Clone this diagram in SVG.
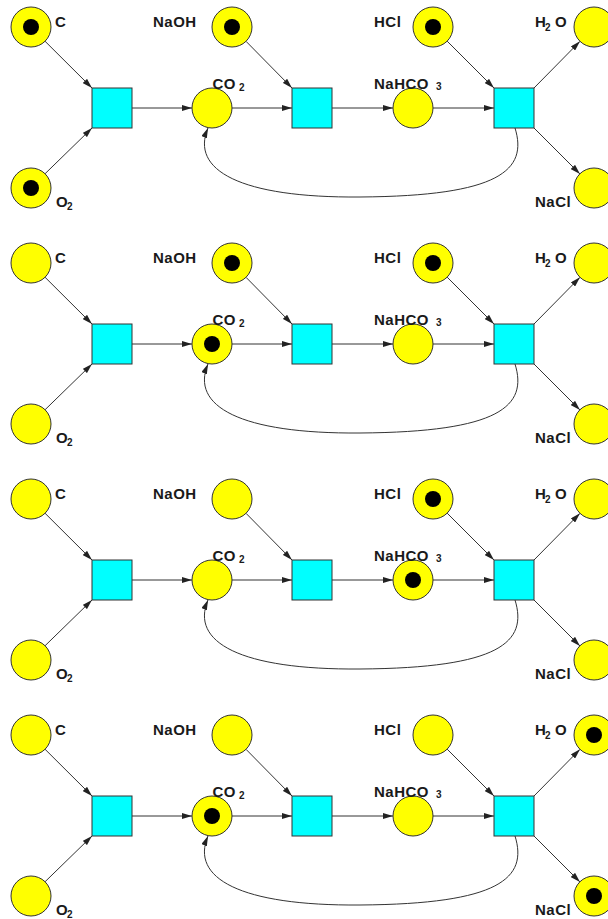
<svg xmlns="http://www.w3.org/2000/svg" width="608" height="919" viewBox="0 0 608 919">
<style>
.place{fill:#FFFF00;stroke:#333;stroke-width:1}
.trans{fill:#00FFFF;stroke:#333;stroke-width:1}
.tok{fill:#000}
.arc{fill:none;stroke:#333;stroke-width:1}
.lbl{font-family:"Liberation Sans",Arial,sans-serif;font-weight:bold;font-size:15px;letter-spacing:0.5px;fill:#1a1a1a}
.sub{font-size:10px;letter-spacing:0}
</style>
<defs>
<marker id="ah" viewBox="0 0 10 6" refX="10" refY="3" markerWidth="10" markerHeight="6" markerUnits="userSpaceOnUse" orient="auto">
<path d="M0,0 L10,3 L0,6 z" fill="#222"/>
</marker>
</defs>
<rect width="608" height="919" fill="#fff"/>

<!-- Panel 1 -->
<g id="panel1">
<g id="p1-connectors">
<line class="arc" x1="44.9" y1="41.1" x2="92" y2="88" marker-end="url(#ah)"/>
<line class="arc" x1="44.9" y1="173.9" x2="92" y2="128" marker-end="url(#ah)"/>
<line class="arc" x1="132" y1="108" x2="192" y2="108" marker-end="url(#ah)"/>
<line class="arc" x1="232" y1="108" x2="292" y2="108" marker-end="url(#ah)"/>
<line class="arc" x1="246" y1="41.3" x2="292" y2="88" marker-end="url(#ah)"/>
<line class="arc" x1="332" y1="108" x2="393" y2="108" marker-end="url(#ah)"/>
<line class="arc" x1="433" y1="108" x2="494" y2="108" marker-end="url(#ah)"/>
<line class="arc" x1="447.1" y1="41.1" x2="494" y2="88" marker-end="url(#ah)"/>
<line class="arc" x1="534" y1="88" x2="580" y2="41.3" marker-end="url(#ah)"/>
<line class="arc" x1="534" y1="128" x2="580" y2="174" marker-end="url(#ah)"/>
<path class="arc" d="M515,128 C528,170 500,196 360,197 C240,198 190,170 208,128" marker-end="url(#ah)"/>
</g>
<g id="p1-C"><circle class="place" cx="31" cy="27" r="20"/><circle class="tok" cx="31" cy="27" r="8"/><text class="lbl" x="55" y="27">C</text></g>
<g id="p1-O2"><circle class="place" cx="31" cy="188" r="20"/><circle class="tok" cx="31" cy="188" r="8"/><text class="lbl" x="56" y="207">O<tspan class="sub" x="67" y="210">2</tspan></text></g>
<g id="p1-t1"><rect class="trans" x="92" y="88" width="40" height="40"/></g>
<g id="p1-CO2"><circle class="place" cx="212" cy="108" r="20"/><text class="lbl" x="212.5" y="89">CO<tspan class="sub" x="239" y="91">2</tspan></text></g>
<g id="p1-NaOH"><circle class="place" cx="232" cy="27" r="20"/><circle class="tok" cx="232" cy="27" r="8"/><text class="lbl" x="153" y="27">NaOH</text></g>
<g id="p1-t2"><rect class="trans" x="292" y="88" width="40" height="40"/></g>
<g id="p1-NaHCO3"><circle class="place" cx="413" cy="108" r="20"/><text class="lbl" x="374" y="89">NaHCO<tspan class="sub" x="436" y="90">3</tspan></text></g>
<g id="p1-HCl"><circle class="place" cx="433" cy="27" r="20"/><circle class="tok" cx="433" cy="27" r="8"/><text class="lbl" x="374" y="27">HCl</text></g>
<g id="p1-t3"><rect class="trans" x="494" y="88" width="40" height="40"/></g>
<g id="p1-H2O"><circle class="place" cx="594" cy="27" r="20"/><text class="lbl" x="535" y="27">H<tspan class="sub" x="545" y="31">2</tspan><tspan x="555" y="27">O</tspan></text></g>
<g id="p1-NaCl"><circle class="place" cx="594" cy="188" r="20"/><text class="lbl" x="535" y="207">NaCl</text></g>
</g>

<!-- Panel 2 -->
<g id="panel2" transform="translate(0,236)">
<g id="p2-connectors">
<line class="arc" x1="44.9" y1="41.1" x2="92" y2="88" marker-end="url(#ah)"/>
<line class="arc" x1="44.9" y1="173.9" x2="92" y2="128" marker-end="url(#ah)"/>
<line class="arc" x1="132" y1="108" x2="192" y2="108" marker-end="url(#ah)"/>
<line class="arc" x1="232" y1="108" x2="292" y2="108" marker-end="url(#ah)"/>
<line class="arc" x1="246" y1="41.3" x2="292" y2="88" marker-end="url(#ah)"/>
<line class="arc" x1="332" y1="108" x2="393" y2="108" marker-end="url(#ah)"/>
<line class="arc" x1="433" y1="108" x2="494" y2="108" marker-end="url(#ah)"/>
<line class="arc" x1="447.1" y1="41.1" x2="494" y2="88" marker-end="url(#ah)"/>
<line class="arc" x1="534" y1="88" x2="580" y2="41.3" marker-end="url(#ah)"/>
<line class="arc" x1="534" y1="128" x2="580" y2="174" marker-end="url(#ah)"/>
<path class="arc" d="M515,128 C528,170 500,196 360,197 C240,198 190,170 208,128" marker-end="url(#ah)"/>
</g>
<g id="p2-C"><circle class="place" cx="31" cy="27" r="20"/><text class="lbl" x="55" y="27">C</text></g>
<g id="p2-O2"><circle class="place" cx="31" cy="188" r="20"/><text class="lbl" x="56" y="207">O<tspan class="sub" x="67" y="210">2</tspan></text></g>
<g id="p2-t1"><rect class="trans" x="92" y="88" width="40" height="40"/></g>
<g id="p2-CO2"><circle class="place" cx="212" cy="108" r="20"/><circle class="tok" cx="212" cy="108" r="8"/><text class="lbl" x="212.5" y="89">CO<tspan class="sub" x="239" y="91">2</tspan></text></g>
<g id="p2-NaOH"><circle class="place" cx="232" cy="27" r="20"/><circle class="tok" cx="232" cy="27" r="8"/><text class="lbl" x="153" y="27">NaOH</text></g>
<g id="p2-t2"><rect class="trans" x="292" y="88" width="40" height="40"/></g>
<g id="p2-NaHCO3"><circle class="place" cx="413" cy="108" r="20"/><text class="lbl" x="374" y="89">NaHCO<tspan class="sub" x="436" y="90">3</tspan></text></g>
<g id="p2-HCl"><circle class="place" cx="433" cy="27" r="20"/><circle class="tok" cx="433" cy="27" r="8"/><text class="lbl" x="374" y="27">HCl</text></g>
<g id="p2-t3"><rect class="trans" x="494" y="88" width="40" height="40"/></g>
<g id="p2-H2O"><circle class="place" cx="594" cy="27" r="20"/><text class="lbl" x="535" y="27">H<tspan class="sub" x="545" y="31">2</tspan><tspan x="555" y="27">O</tspan></text></g>
<g id="p2-NaCl"><circle class="place" cx="594" cy="188" r="20"/><text class="lbl" x="535" y="207">NaCl</text></g>
</g>

<!-- Panel 3 -->
<g id="panel3" transform="translate(0,472)">
<g id="p3-connectors">
<line class="arc" x1="44.9" y1="41.1" x2="92" y2="88" marker-end="url(#ah)"/>
<line class="arc" x1="44.9" y1="173.9" x2="92" y2="128" marker-end="url(#ah)"/>
<line class="arc" x1="132" y1="108" x2="192" y2="108" marker-end="url(#ah)"/>
<line class="arc" x1="232" y1="108" x2="292" y2="108" marker-end="url(#ah)"/>
<line class="arc" x1="246" y1="41.3" x2="292" y2="88" marker-end="url(#ah)"/>
<line class="arc" x1="332" y1="108" x2="393" y2="108" marker-end="url(#ah)"/>
<line class="arc" x1="433" y1="108" x2="494" y2="108" marker-end="url(#ah)"/>
<line class="arc" x1="447.1" y1="41.1" x2="494" y2="88" marker-end="url(#ah)"/>
<line class="arc" x1="534" y1="88" x2="580" y2="41.3" marker-end="url(#ah)"/>
<line class="arc" x1="534" y1="128" x2="580" y2="174" marker-end="url(#ah)"/>
<path class="arc" d="M515,128 C528,170 500,196 360,197 C240,198 190,170 208,128" marker-end="url(#ah)"/>
</g>
<g id="p3-C"><circle class="place" cx="31" cy="27" r="20"/><text class="lbl" x="55" y="27">C</text></g>
<g id="p3-O2"><circle class="place" cx="31" cy="188" r="20"/><text class="lbl" x="56" y="207">O<tspan class="sub" x="67" y="210">2</tspan></text></g>
<g id="p3-t1"><rect class="trans" x="92" y="88" width="40" height="40"/></g>
<g id="p3-CO2"><circle class="place" cx="212" cy="108" r="20"/><text class="lbl" x="212.5" y="89">CO<tspan class="sub" x="239" y="91">2</tspan></text></g>
<g id="p3-NaOH"><circle class="place" cx="232" cy="27" r="20"/><text class="lbl" x="153" y="27">NaOH</text></g>
<g id="p3-t2"><rect class="trans" x="292" y="88" width="40" height="40"/></g>
<g id="p3-NaHCO3"><circle class="place" cx="413" cy="108" r="20"/><circle class="tok" cx="413" cy="108" r="8"/><text class="lbl" x="374" y="89">NaHCO<tspan class="sub" x="436" y="90">3</tspan></text></g>
<g id="p3-HCl"><circle class="place" cx="433" cy="27" r="20"/><circle class="tok" cx="433" cy="27" r="8"/><text class="lbl" x="374" y="27">HCl</text></g>
<g id="p3-t3"><rect class="trans" x="494" y="88" width="40" height="40"/></g>
<g id="p3-H2O"><circle class="place" cx="594" cy="27" r="20"/><text class="lbl" x="535" y="27">H<tspan class="sub" x="545" y="31">2</tspan><tspan x="555" y="27">O</tspan></text></g>
<g id="p3-NaCl"><circle class="place" cx="594" cy="188" r="20"/><text class="lbl" x="535" y="207">NaCl</text></g>
</g>

<!-- Panel 4 -->
<g id="panel4" transform="translate(0,708)">
<g id="p4-connectors">
<line class="arc" x1="44.9" y1="41.1" x2="92" y2="88" marker-end="url(#ah)"/>
<line class="arc" x1="44.9" y1="173.9" x2="92" y2="128" marker-end="url(#ah)"/>
<line class="arc" x1="132" y1="108" x2="192" y2="108" marker-end="url(#ah)"/>
<line class="arc" x1="232" y1="108" x2="292" y2="108" marker-end="url(#ah)"/>
<line class="arc" x1="246" y1="41.3" x2="292" y2="88" marker-end="url(#ah)"/>
<line class="arc" x1="332" y1="108" x2="393" y2="108" marker-end="url(#ah)"/>
<line class="arc" x1="433" y1="108" x2="494" y2="108" marker-end="url(#ah)"/>
<line class="arc" x1="447.1" y1="41.1" x2="494" y2="88" marker-end="url(#ah)"/>
<line class="arc" x1="534" y1="88" x2="580" y2="41.3" marker-end="url(#ah)"/>
<line class="arc" x1="534" y1="128" x2="580" y2="174" marker-end="url(#ah)"/>
<path class="arc" d="M515,128 C528,170 500,196 360,197 C240,198 190,170 208,128" marker-end="url(#ah)"/>
</g>
<g id="p4-C"><circle class="place" cx="31" cy="27" r="20"/><text class="lbl" x="55" y="27">C</text></g>
<g id="p4-O2"><circle class="place" cx="31" cy="188" r="20"/><text class="lbl" x="56" y="207">O<tspan class="sub" x="67" y="210">2</tspan></text></g>
<g id="p4-t1"><rect class="trans" x="92" y="88" width="40" height="40"/></g>
<g id="p4-CO2"><circle class="place" cx="212" cy="108" r="20"/><circle class="tok" cx="212" cy="108" r="8"/><text class="lbl" x="212.5" y="89">CO<tspan class="sub" x="239" y="91">2</tspan></text></g>
<g id="p4-NaOH"><circle class="place" cx="232" cy="27" r="20"/><text class="lbl" x="153" y="27">NaOH</text></g>
<g id="p4-t2"><rect class="trans" x="292" y="88" width="40" height="40"/></g>
<g id="p4-NaHCO3"><circle class="place" cx="413" cy="108" r="20"/><text class="lbl" x="374" y="89">NaHCO<tspan class="sub" x="436" y="90">3</tspan></text></g>
<g id="p4-HCl"><circle class="place" cx="433" cy="27" r="20"/><text class="lbl" x="374" y="27">HCl</text></g>
<g id="p4-t3"><rect class="trans" x="494" y="88" width="40" height="40"/></g>
<g id="p4-H2O"><circle class="place" cx="594" cy="27" r="20"/><circle class="tok" cx="594" cy="27" r="8"/><text class="lbl" x="535" y="27">H<tspan class="sub" x="545" y="31">2</tspan><tspan x="555" y="27">O</tspan></text></g>
<g id="p4-NaCl"><circle class="place" cx="594" cy="188" r="20"/><circle class="tok" cx="594" cy="188" r="8"/><text class="lbl" x="535" y="207">NaCl</text></g>
</g>
</svg>
